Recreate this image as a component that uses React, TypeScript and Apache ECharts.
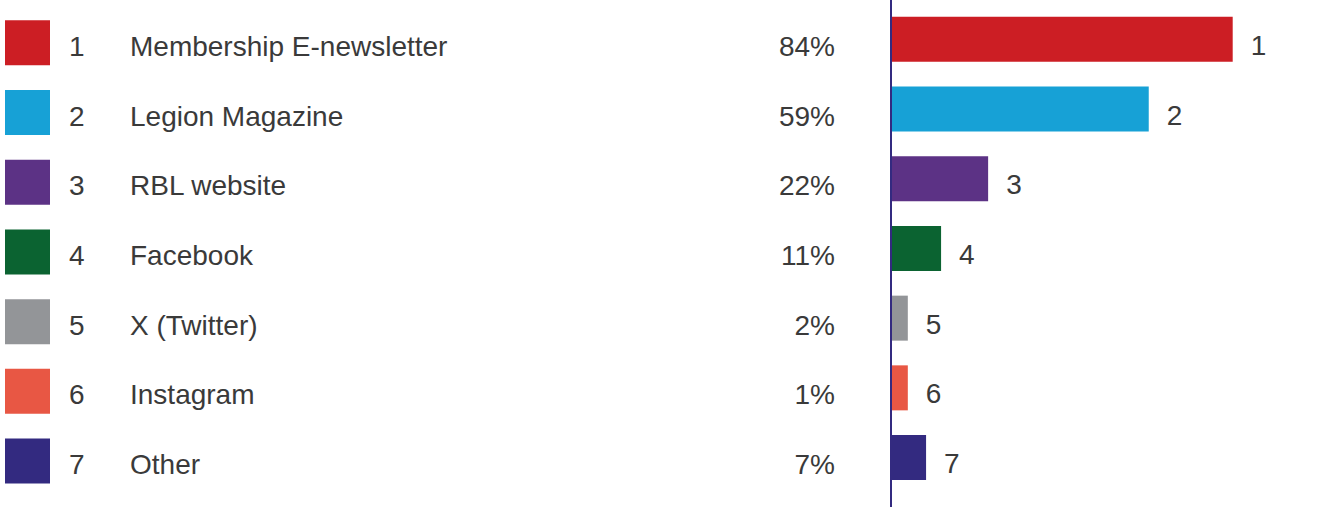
import React, { useEffect, useRef } from 'react';
import * as echarts from 'echarts';

const categories = [
  'Membership E-newsletter',
  'Legion Magazine',
  'RBL website',
  'Facebook',
  'X (Twitter)',
  'Instagram',
  'Other',
];
const ranks = ['1', '2', '3', '4', '5', '6', '7'];
const percentLabels = ['84%', '59%', '22%', '11%', '2%', '1%', '7%'];
// bar lengths (same scale as the 84% bar)
const barLengths = [84, 63.3, 23.7, 12.1, 3.9, 3.9, 8.4];
const colors = ['#cc1e24', '#17a1d6', '#5c3285', '#0b6331', '#939598', '#e85744', '#332a80'];

const FONT = '"Liberation Sans", Arial, Helvetica, sans-serif';
const TEXT = '#3a3a3a';

export default function App() {
  const ref = useRef<HTMLDivElement>(null);

  useEffect(() => {
    const chart = echarts.init(ref.current!, null, { renderer: 'svg' });

    const textTok = { fontSize: 28, color: TEXT, fontFamily: FONT, padding: [14, 0, 0, 0] };
    const rich: any = {
      g: { width: 19 },
      num: { ...textTok, width: 61 },
      name: { ...textTok, width: 600 },
      pct: { ...textTok, width: 105, align: 'right' },
    };
    colors.forEach((c, i) => {
      rich['sq' + i] = {
        width: 45,
        height: 45,
        lineHeight: 52,
        backgroundColor: c,
        verticalAlign: 'bottom',
      };
    });

    chart.setOption({
      animation: false,
      grid: { left: 892, right: 27.4, top: 4.5, bottom: 16.6 },
      xAxis: { type: 'value', min: 0, max: 100, show: false },
      yAxis: {
        type: 'category',
        inverse: true,
        data: categories,
        axisLine: { show: false },
        axisTick: { show: false },
        splitLine: { show: false },
        axisLabel: {
          interval: 0,
          align: 'left',
          margin: 887,
          formatter: (value: string, index: number) =>
            `{sq${index}|}{g|}{num|${ranks[index]}}{name|${value}}{pct|${percentLabels[index]}}`,
          rich,
        },
      },
      graphic: [
        {
          type: 'line',
          shape: { x1: 891, y1: 0, x2: 891, y2: 507 },
          style: { stroke: '#332a80', lineWidth: 2 },
          z: 10,
        },
      ],
      series: [
        {
          type: 'bar',
          barWidth: 45,
          data: barLengths.map((v, i) => ({ value: v, itemStyle: { color: colors[i] } })),
          label: {
            show: true,
            position: 'right',
            distance: 18,
            offset: [0, 6],
            formatter: (p: any) => ranks[p.dataIndex],
            fontSize: 28,
            color: TEXT,
            fontFamily: FONT,
          },
        },
      ],
    });

    return () => chart.dispose();
  }, []);

  return (
    <div
      ref={ref}
      style={{ position: 'fixed', left: 0, top: 0, width: 1325, height: 509, background: '#fff' }}
    />
  );
}
